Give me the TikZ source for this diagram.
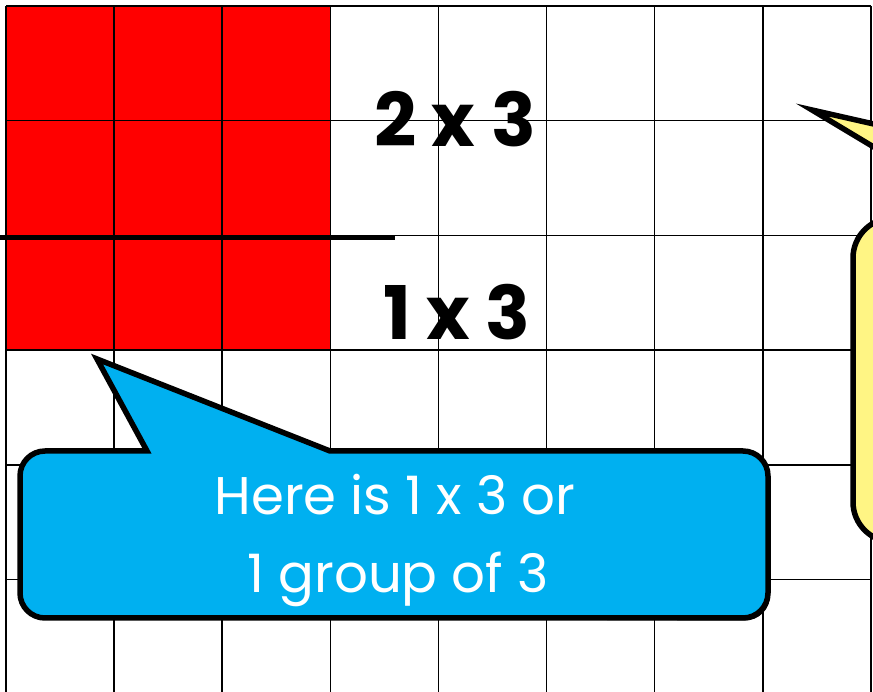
\documentclass[tikz,border=0pt]{standalone}
\usepackage{fontspec}
\setmainfont{Poppins}
\definecolor{calloutblue}{HTML}{00B0F0}
\definecolor{calloutyellow}{HTML}{FFF584}
\definecolor{cellred}{HTML}{FF0000}
\begin{document}
\begin{tikzpicture}[x=1pt,y=1pt,
  gridline/.style={line width=1.6pt,black},
  bigfact/.style={font=\fontsize{74}{78}\selectfont\bfseries, text=black, inner sep=0pt},
  bluetext/.style={font=\fontsize{53}{58}\selectfont, text=white, inner sep=0pt, anchor=base},
  calloutline/.style={line width=5.5pt, line join=miter, miter limit=20}]
\useasboundingbox (0,0) rectangle (873,692);
\begin{scope}
\clip (0,0) rectangle (873,692);
\fill[white] (0,0) rectangle (873,692);
% red block
\fill[cellred] (6,342) rectangle (330.3,686);
% grid
\foreach \k in {0,...,8} \draw[gridline] ({6+108.1*\k},0) -- ({6+108.1*\k},686);
\foreach \k in {0,...,5} \draw[gridline] (6,{686-114.7*\k}) -- (871,{686-114.7*\k});
% thick divider
\coordinate (divL) at (0,454.5);
\coordinate (divR) at (395,454.5);
\draw[line width=5pt] (divL) -- (divR);
% labels
\node[bigfact] (twothree) at (455,573) {2 x 3};
\node[bigfact] (onethree) at (457,380) {1 x 3};
% blue callout shadow
\fill[black] (98.5,330.5) -- (148.5,238.5) -- (45,238.5) arc[start angle=90,end angle=180,radius=25] -- (21.5,99) arc[start angle=180,end angle=270,radius=25] -- (745,71.5) arc[start angle=270,end angle=360,radius=25] -- (770,216) arc[start angle=0,end angle=90,radius=25] -- (332,238.5) -- cycle;
% blue callout
\draw[calloutline, fill=calloutblue] (97,333) -- (147,241) -- (45,241) arc[start angle=90,end angle=180,radius=25] -- (20,99) arc[start angle=180,end angle=270,radius=25] -- (743,74) arc[start angle=270,end angle=360,radius=25] -- (768,216) arc[start angle=0,end angle=90,radius=25] -- (330,241) -- cycle;
\node[bluetext] (lineone) at (395,177) {Here is 1 x 3 or};
\node[bluetext] (linetwo) at (398,99) {1 group of 3};
% yellow callout
\draw[calloutline, fill=calloutyellow] (812,582) -- (992,474) -- (893,474) arc[start angle=90,end angle=180,radius=40] -- (853,190) arc[start angle=180,end angle=270,radius=40] -- (1400,150) -- (1400,474) -- (1288,474) -- cycle;
\end{scope}
\end{tikzpicture}
\end{document}
